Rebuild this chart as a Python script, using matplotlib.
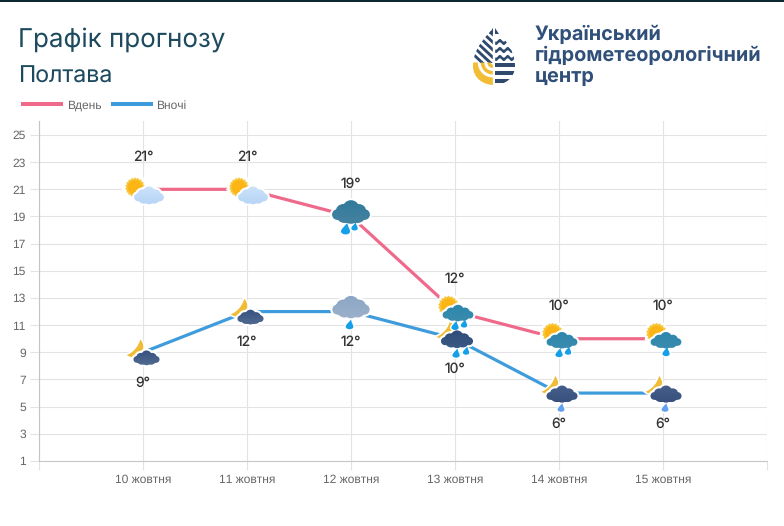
import numpy as np
import matplotlib
matplotlib.use("Agg")
import matplotlib.pyplot as plt
from matplotlib.path import Path
from matplotlib.patches import PathPatch, Circle, Rectangle, Polygon, Wedge

days = ["10 жовтня", "11 жовтня", "12 жовтня", "13 жовтня", "14 жовтня", "15 жовтня"]
day_temps = [21, 21, 19, 12, 10, 10]
night_temps = [9, 12, 12, 10, 6, 6]
day_icons = ["sun_light", "sun_light", "rain2", "sun_rain2", "sun_rain2", "sun_rain1"]
night_icons = ["moon", "moon", "grey_rain", "moon_rain2", "moon_rain1", "moon_rain1"]
y_ticks = list(range(1, 26, 2))

plt.rcParams["text.hinting"] = "no_hinting"
plt.rcParams["text.hinting_factor"] = 1

PINK, BLUE = "#ef6a8a", "#3f9cdc"
W, H = 784, 526
fig = plt.figure(figsize=(W / 100, H / 100), dpi=100, facecolor="white")
ax = fig.add_axes([39.0 / W, 1 - 461 / H, 728 / W, (461 - 121.4) / H])
ax.set_xlim(-1, 6)
ax.set_ylim(1, 26)
x = np.arange(len(days))
ax.plot(x, day_temps, color=PINK, lw=2.3, label="Вдень", solid_capstyle="butt", zorder=3)
ax.plot(x, night_temps, color=BLUE, lw=2.3, label="Вночі", solid_capstyle="butt", zorder=3)

ax.set_yticks(y_ticks)
ax.set_xticks(np.arange(-1, 7))
ax.set_xticklabels([""] + days + [""])
ax.grid(True, color="#e3e3e3", lw=0.8)
ax.set_axisbelow(True)
for s in ("top", "right"):
    ax.spines[s].set_visible(False)
ax.spines["left"].set_color("#c4c4c4")
ax.spines["bottom"].set_color("#c8c8c8")
ax.spines["left"].set_linewidth(0.8)
ax.spines["bottom"].set_linewidth(0.8)
ax.tick_params(axis="both", length=6.5, width=0.8, color="#e3e3e3", labelcolor="#666666",
               labelsize=8.7, pad=3)
for t in ax.get_xticklabels() + ax.get_yticklabels():
    t.set_family("Liberation Sans")

leg = ax.legend(loc="upper left", bbox_to_anchor=(21 / W, 1 - 100 / H), bbox_transform=fig.transFigure,
                ncol=2, frameon=False, prop={"family": "Liberation Sans", "size": 8.7},
                handlelength=3.5, handletextpad=0.3, columnspacing=0.75, borderpad=0, borderaxespad=0)
for t in leg.get_texts():
    t.set_color("#666666")
for h in leg.get_lines():
    h.set_linewidth(2.9)

for xi, v in zip(x, day_temps):
    ax.annotate(f"{v}°", (xi, v), xytext=(0, 23.2), textcoords="offset points", ha="center", va="center",
                family="Inter", fontsize=10, color="#333333", zorder=6)
for xi, v in zip(x, night_temps):
    ax.annotate(f"{v}°", (xi, v), xytext=(0, -22.2), textcoords="offset points", ha="center", va="center",
                family="Inter", fontsize=10, color="#333333", zorder=6)

# pixel-space overlay (y down) for icons, logo, headings
ov = fig.add_axes([0, 0, 1, 1], facecolor="none", zorder=5)
ov.set_xlim(0, W)
ov.set_ylim(H, 0)
ov.axis("off")

def to_px(xi, v):
    px, py = ax.transData.transform((xi, v))
    return px, H - py

def circle_path(cx, cy, r):
    p = Path.unit_circle()
    return Path(p.vertices * r + [cx, cy], p.codes)

def cloud_path(cx, cy, w, h):
    u, v = w / 2, h / 2
    parts = [circle_path(cx, cy - v * 0.3, v * 0.7),
             circle_path(cx - u * 0.42, cy - v * 0.05, v * 0.62),
             circle_path(cx + u * 0.42, cy - v * 0.05, v * 0.62),
             circle_path(cx - u * 0.72, cy + v * 0.22, v * 0.45),
             circle_path(cx + u * 0.72, cy + v * 0.22, v * 0.45),
             circle_path(cx, cy + v * 0.2, v * 0.8),
             circle_path(cx - u * 0.35, cy + v * 0.25, v * 0.68),
             circle_path(cx + u * 0.35, cy + v * 0.25, v * 0.68)]
    return Path.make_compound_path(*parts)

def halo_patch(path, z=7, lw=3.4):
    ov.add_patch(PathPatch(path, fc="white", ec="white", lw=lw, zorder=z))

def cloud(cx, cy, w, h, top, bottom, z=8):
    w, h = w * 1.08, h * 1.18
    path = cloud_path(cx, cy, w, h)
    halo_patch(path, z=z - 1, lw=3.0)
    clip = PathPatch(path, fc="none", ec="none", transform=ov.transData)
    ov.add_patch(clip)
    grad = np.linspace(0, 1, 32)[:, None]
    c0, c1 = np.array(matplotlib.colors.to_rgb(top)), np.array(matplotlib.colors.to_rgb(bottom))
    img = (1 - grad[..., None]) * c0 + grad[..., None] * c1
    im = ov.imshow(img, extent=(cx - w, cx + w, cy + h * 0.6, cy - h * 0.6), aspect="auto", zorder=z,
                   interpolation="bilinear")
    im.set_clip_path(clip)
    ov.set_xlim(0, W)
    ov.set_ylim(H, 0)

def sun(cx, cy, r=10.0):
    s = Path.unit_regular_star(18, 0.86)
    star = Path(s.vertices * r + [cx, cy], s.codes)
    halo_patch(star, z=5.5)
    ov.add_patch(PathPatch(star, fc="#f7c63a", ec="none", zorder=6))
    ov.add_patch(Circle((cx, cy), r * 0.72, fc="#fbb515", ec="none", zorder=6.2))

def moon(cx, cy, R=10.3):
    d = np.array([-0.76, -0.65])
    D, r = 20.4, 23.5
    a = (D ** 2 + R ** 2 - r ** 2) / (2 * D)
    phi = np.arccos(a / R)
    psi = np.arctan2(np.sqrt(R ** 2 - a ** 2), a - D)
    base = np.arctan2(d[1], d[0])
    t1 = base + np.linspace(phi, 2 * np.pi - phi, 40)
    t2 = base + np.linspace(2 * np.pi - psi, psi, 40)
    pts = np.r_[np.c_[cx + R * np.cos(t1), cy + R * np.sin(t1)],
                np.c_[cx + D * d[0] + r * np.cos(t2), cy + D * d[1] + r * np.sin(t2)]]
    pg = Path(np.r_[pts, pts[:1]], closed=True)
    halo_patch(pg, z=5.5, lw=2.4)
    ov.add_patch(PathPatch(pg, fc="#f0bc35", ec="none", zorder=6))

def drop(cx, cy, s=4.5, color="#159fe8", z=8):
    s = s * 1.15
    tip = (cx + s * 0.35, cy - s * 1.25)
    verts = [tip, (cx + s * 0.5, cy - s * 0.4), (cx + s, cy + s * 0.1), (cx + s * 0.85, cy + s * 0.55),
             (cx + s * 0.6, cy + s * 1.1), (cx - s * 0.6, cy + s * 1.1), (cx - s * 0.85, cy + s * 0.5),
             (cx - s, cy), (cx - s * 0.2, cy - s * 0.6), tip]
    codes = [Path.MOVETO] + [Path.CURVE4] * 9
    p = Path(verts, codes)
    halo_patch(p, z=z - 1, lw=2.0)
    ov.add_patch(PathPatch(p, fc=color, ec="none", zorder=z))

def icon(kind, xi, v):
    px, py = to_px(xi, v)
    if kind == "sun_light":
        sun(px - 8, py - 2)
        cloud(px + 6, py + 6, 28, 15, "#cfe4fb", "#b4d3f5")
    elif kind == "rain2":
        cloud(px, py - 4.5, 35, 20, "#2f7a9c", "#47829f")
        drop(px - 5.5, py + 13, 4.5); drop(px + 3.5, py + 10.5, 3.2)
    elif kind == "sun_rain2":
        sun(px - 6.5, py - 5.5, 10.5)
        cloud(px + 3, py + 1.5, 30, 14, "#2b86ad", "#3c8cae")
        drop(px + 0, py + 14.5, 3.6); drop(px + 9, py + 12.5, 3.2)
    elif kind == "sun_rain1":
        sun(px - 6.5, py - 5.5, 10.5)
        cloud(px + 3, py + 1.5, 30, 14, "#2b86ad", "#3c8cae")
        drop(px + 3, py + 13.5, 3.6)
    elif kind == "moon":
        moon(px - 10, py - 5.5)
        cloud(px + 3.5, py + 5.5, 25, 12.5, "#35507f", "#536c92")
    elif kind == "grey_rain":
        cloud(px, py - 4.5, 35, 19, "#8aa5c4", "#9db2cb")
        drop(px - 1.5, py + 13.5, 3.8)
    elif kind == "moon_rain2":
        moon(px - 12.2, py - 10.3)
        cloud(px + 2, py + 0.5, 31, 15, "#2e4b78", "#3c5a85")
        drop(px + 1, py + 15, 3.6); drop(px + 11, py + 12.5, 3.2)
    elif kind == "moon_rain1":
        moon(px - 11.2, py - 9.6)
        cloud(px + 3, py + 1, 30, 14.5, "#46608e", "#384f7a")
        drop(px + 2, py + 15, 3.4, color="#62a0f0")

for xi, v, k in zip(x, day_temps, day_icons):
    icon(k, xi, v)
for xi, v, k in zip(x, night_temps, night_icons):
    icon(k, xi, v)

# top rule
ov.add_patch(Rectangle((0, 0), W, 1.5, fc="#0c2730", ec="none", zorder=1))

# headings
ov.text(18, 47, "Графік прогнозу", family="Inter", fontsize=18.7, color="#1d4a5e", va="baseline", ha="left")
ov.text(18, 83, "Полтава", family="Inter", fontsize=16.7, color="#1d4a5e", va="baseline", ha="left")

# logo text
for yy, s in zip((39.5, 60.5, 82), ("Український", "гідрометеорологічний", "центр")):
    ov.text(534.5, yy, s, family="Inter", weight="bold", fontsize=14.3, color="#30507a", va="baseline", ha="left")

# logo mark
NAVY, YEL = "#2f4a6d", "#f2bd35"
lx, ty, by = 494.0, 27.0, 85.0
hw = 21
split = 62.5
dv = [(lx, ty), (lx - 6, ty + 8), (lx - hw, ty + 20), (lx - hw, by - 19), (lx - hw, by - 7), (lx - 11, by), (lx, by),
      (lx + 11, by), (lx + hw, by - 7), (lx + hw, by - 19), (lx + hw, ty + 20), (lx + 6, ty + 8), (lx, ty)]
dp = Path(dv, [Path.MOVETO] + [Path.CURVE4] * 12)
clip = PathPatch(dp, fc="none", ec="none")
ov.add_patch(clip)
for i in range(7):
    off = i * 7.6
    st = Polygon([(lx - 1.2, ty + off - 2), (lx - 1.2, ty + off + 2.0), (lx - 28, ty + off - 23.2), (lx - 28, ty + off - 27)],
                 closed=True, fc=NAVY, ec="none", zorder=3)
    ov.add_patch(st); st.set_clip_path(clip)
for i, yy in enumerate((42, 50, 58, 65, 73, 81)):
    if i < 3:
        xs = np.linspace(lx + 1.2, lx + 24, 30)
        ys = yy + 1.4 * np.sin((xs - lx) * 0.8)
        st = Polygon(np.r_[np.c_[xs, ys - 1.7], np.c_[xs[::-1], ys[::-1] + 1.7]], closed=True, fc=NAVY, ec="none", zorder=3)
    else:
        st = Rectangle((lx + 1.2, yy - 1.7), 24, 3.4, fc=NAVY, ec="none", zorder=3)
    ov.add_patch(st); st.set_clip_path(clip)
ov.add_patch(Polygon([(lx + 1, 27.5), (lx + 1, 34), (lx + 5, 34)], closed=True, fc=NAVY, ec="none", zorder=3))
ov.add_patch(Polygon([(lx - 1, 27.5), (lx - 1, 34), (lx - 5, 34)], closed=True, fc=NAVY, ec="none", zorder=3))
mask = Rectangle((lx - 25, split), 24, 25, fc="white", ec="none", zorder=3.5)
ov.add_patch(mask); mask.set_clip_path(clip)
for r0, r1 in ((2, 5.5), (8.5, 12), (15, 23)):
    w = Wedge((lx - 1.2, split), r1, 90, 180, width=r1 - r0, fc=YEL, ec="none", zorder=4)
    ov.add_patch(w); w.set_clip_path(clip)

fig.savefig("out.png", dpi=100, facecolor="white")
